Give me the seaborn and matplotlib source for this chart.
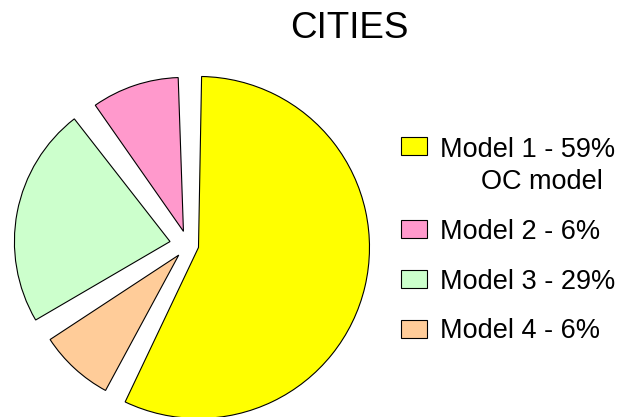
import matplotlib
matplotlib.use("Agg")
import matplotlib.pyplot as plt
import seaborn as sns

# ---- data ----
title = "CITIES"
models = ["Model 1", "Model 2", "Model 3", "Model 4"]
legend_pcts = ["59%", "6%", "29%", "6%"]
notes = ["OC model", "", "", ""]
shares = [57.6, 10.0, 23.7, 8.7]          # slice sizes as drawn
colors = ["#FFFF00", "#FF99CC", "#CCFFCC", "#FFCC99"]

sns.set_theme(style="white")
plt.rcParams["font.family"] = ["Liberation Sans", "DejaVu Sans"]
plt.rcParams["text.color"] = "black"

fig = plt.figure(figsize=(6.25, 4.17), dpi=100)
fig.patch.set_facecolor("white")
ax = fig.add_axes([0, 0, 1, 1])

explode = [0.063, 0.084, 0.107, 0.080]
wedges, _ = ax.pie(shares, colors=colors, explode=explode, startangle=243.1,
                   counterclock=True,
                   wedgeprops=dict(edgecolor="black", linewidth=0.8))
gap = 3.0
radii = [1.0, 0.9, 0.91, 0.9]
for w, r in zip(wedges, radii):
    w.set_theta1(w.theta1 + gap / 2)
    w.set_theta2(w.theta2 - gap / 2)
    w.set_radius(r)

ax.set_aspect("auto")
ax.set_xlim(-188 / 171, 437 / 171)
ax.set_ylim(-172 / 171, 245 / 171)
ax.axis("off")

labels = [f"{m} - {p}" + (f"\n    {n}" if n else "")
          for m, p, n in zip(models, legend_pcts, notes)]

leg = fig.legend(wedges, labels, loc="upper left",
                 bbox_to_anchor=(401 / 625, 1 - 137.3 / 417),
                 frameon=False, fontsize=19.5, handlelength=0.95,
                 handleheight=0.654, handletextpad=0.48, labelspacing=0.88,
                 borderpad=0, borderaxespad=0)
for t in leg.texts:
    t.set_color("black")
leg.texts[0].set_multialignment("center")
leg.texts[0].set_linespacing(1.28)
leg._legend_handle_box.get_children()[0].get_children()[0].align = "top"

fig.text(349 / 625, 1 - 37.7 / 417, title, ha="center", va="baseline",
         fontsize=26.5, color="black")

fig.savefig("out.png", dpi=100)
